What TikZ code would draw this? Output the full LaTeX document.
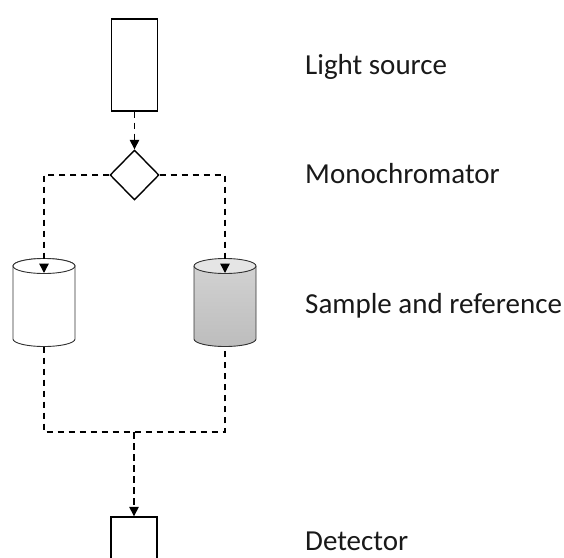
\documentclass[tikz,border=0pt]{standalone}
\usepackage{fontspec}
\setmainfont{Carlito}
\usetikzlibrary{arrows.meta,shapes.geometric}
\begin{document}
\begin{tikzpicture}[x=1pt,y=-1pt,
  box/.style={draw,line width=1.4pt,rectangle,minimum width=46pt,minimum height=92pt,inner sep=0pt},
  dline/.style={line width=1.4pt,dash pattern=on 6.5pt off 4.5pt},
  conn/.style={dline,-{Triangle[length=9.5pt,width=9.5pt]}},
  cylout/.style={draw=black!80,line width=0.9pt},
  lbl/.style={anchor=base west,inner sep=0pt,font=\fontsize{29}{34}\selectfont,text=black!90},
  hold/.style={draw=none,minimum width=62pt,minimum height=88pt,inner sep=0pt}
]
\useasboundingbox (0,0) rectangle (564,557);

% labels
\node[lbl] (t1) at (305,74) {Light source};
\node[lbl] (t2) at (305,183) {Monochromator};
\node[lbl] (t3) at (305,313) {Sample and reference};
\node[lbl] (t4) at (305,550) {Detector};

\begin{scope}
\clip (0,0) rectangle (564,557);

% nodes
\node[box] (src) at (134.5,65) {};
\node[diamond,draw,line width=1.4pt,minimum width=49pt,minimum height=50pt,inner sep=0pt] (mono) at (134.5,175) {};
\node[hold] (cylL) at (44,302.5) {};
\node[hold] (cylR) at (225,302.5) {};
\node[box] (det) at (134,563) {};

% left cylinder (white)
\filldraw[cylout,fill=white] (13,266) -- (13,339)
  arc[start angle=180,end angle=360,x radius=31pt,y radius=7.5pt]
  -- (75,266) arc[start angle=0,end angle=180,x radius=31pt,y radius=7.5pt] -- cycle;
\filldraw[cylout,fill=white] (44,266) ellipse[x radius=31pt,y radius=7.5pt];

% right cylinder (gray)
\shade[top color=black!17,bottom color=black!26] (194,266) -- (194,339)
  arc[start angle=180,end angle=360,x radius=31pt,y radius=7.5pt]
  -- (256,266) arc[start angle=0,end angle=180,x radius=31pt,y radius=7.5pt] -- cycle;
\draw[cylout] (194,266) -- (194,339)
  arc[start angle=180,end angle=360,x radius=31pt,y radius=7.5pt]
  -- (256,266);
\filldraw[cylout,fill=black!10] (225,266) ellipse[x radius=31pt,y radius=7.5pt];

\coordinate (cLin) at (44,273);
\coordinate (cRin) at (225,273);
\coordinate (join) at (134,432);

% connectors
\draw[conn] (src.south) -- (mono.north);
\draw[conn] (mono.west) -| (cLin);
\draw[conn] (mono.east) -| (cRin);
\draw[dline] (cylL.south) |- (join) -| (cylR.south);
\draw[conn] (join) -- (det.north);
\end{scope}
\end{tikzpicture}
\end{document}
